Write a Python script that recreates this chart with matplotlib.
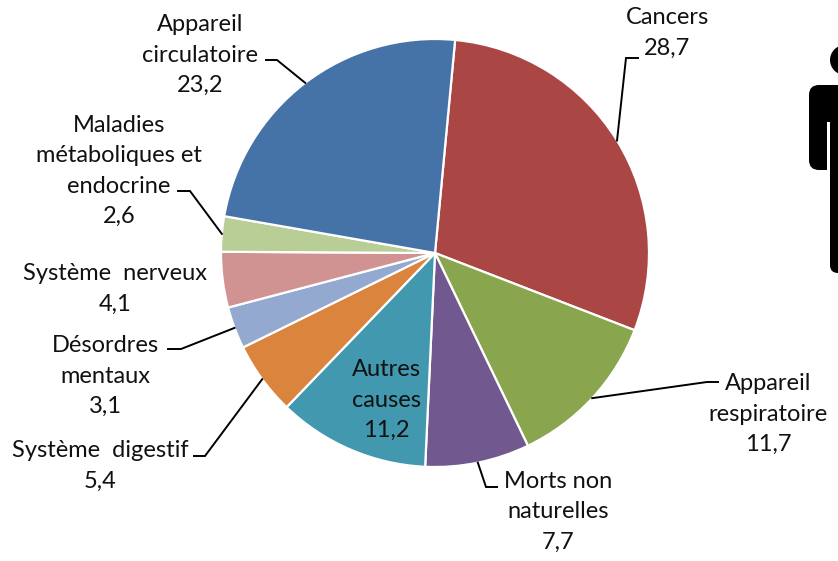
import numpy as np
import matplotlib
matplotlib.use("Agg")
import matplotlib.pyplot as plt
from matplotlib.patches import Circle, FancyBboxPatch, Rectangle

plt.rcParams['font.family'] = ['Lato', 'DejaVu Sans']

categories = ["Cancers", "Appareil\nrespiratoire", "Morts non\nnaturelles", "Autres\ncauses",
              "Système  digestif", "Désordres\nmentaux", "Système  nerveux",
              "Maladies\nmétaboliques et\nendocrine", "Appareil\ncirculatoire"]
values = [28.7, 11.7, 7.7, 11.2, 5.4, 3.1, 4.1, 2.6, 23.2]
value_labels = ["28,7", "11,7", "7,7", "11,2", "5,4", "3,1", "4,1", "2,6", "23,2"]
colors = ["#AA4644", "#89A54E", "#71588F", "#4198AF", "#DB843D",
          "#93A9CF", "#D19392", "#B9CD96", "#4572A7"]

# label centres, in pixels from the top left
label_pos = [(667, 33), (768, 414), (558, 512), (386, 400), (100, 466),
             (105, 376), (115, 289), (119, 171), (200, 55)]
# leader line: text end, elbow (None = no leader)
leaders = [((638, 58), (626, 58)), ((718, 382), (707, 382)), ((497, 487), (486, 487)), None,
           ((194, 456), (205, 456)), ((168, 349), (181, 349)), None,
           ((178, 191), (190, 191)), ((266, 60), (277, 60))]

W, H = 838, 561
cx, cy, r = 435, 253, 214
start = 84.6

fig = plt.figure(figsize=(W / 100, H / 100), dpi=100)
ax = fig.add_axes([0, 0, 1, 1])

# y axis runs downwards here, so the pie is drawn counterclock to come out clockwise
wedges, _ = ax.pie(values, colors=colors, startangle=-start, counterclock=True,
                   center=(cx, cy), radius=r, frame=True,
                   wedgeprops={'edgecolor': 'white', 'linewidth': 1.6})
ax.set_xlim(0, W)
ax.set_ylim(H, 0)
ax.set_aspect('equal')
ax.axis('off')

for w, cat, val, pos, lead in zip(wedges, categories, value_labels, label_pos, leaders):
    ax.text(pos[0], pos[1], cat + "\n" + val, ha='center', va='center',
            fontsize=17, color='#111111', linespacing=1.55)
    if lead is not None:
        mid = np.deg2rad((w.theta1 + w.theta2) / 2)
        edge = (cx + r * np.cos(mid), cy + r * np.sin(mid))
        ax.plot([lead[0][0], lead[1][0], edge[0]], [lead[0][1], lead[1][1], edge[1]],
                color='black', lw=1.4, solid_joinstyle='miter')

# person icon, cut by the right edge
ax.add_patch(Circle((845, 60), 15, fc='black', ec='none'))
ax.add_patch(FancyBboxPatch((817, 93), 40, 69, boxstyle="round,pad=8,rounding_size=10",
                            fc='black', ec='none'))
ax.add_patch(Rectangle((827, 122), 3, 60, fc='white', ec='none'))
ax.add_patch(FancyBboxPatch((838, 130), 20, 135, boxstyle="round,pad=8,rounding_size=8",
                            fc='black', ec='none'))

fig.savefig("out.png", dpi=100)
